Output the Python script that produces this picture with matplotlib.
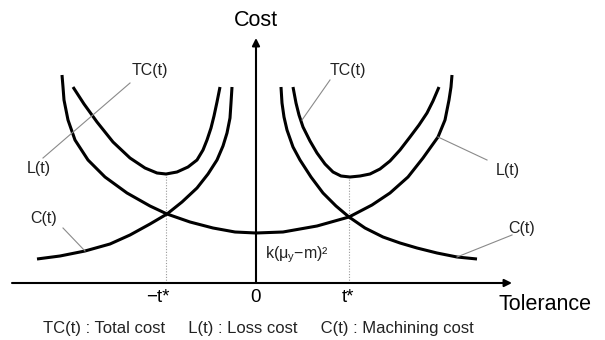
import matplotlib
matplotlib.use('Agg')
import matplotlib.pyplot as plt

plt.rcParams['font.family'] = ['Liberation Sans', 'DejaVu Sans']

# curves (x = tolerance, y = cost)
L_X = [-1.94, -1.93, -1.92, -1.88, -1.81, -1.68, -1.51, -1.29, -1.06, -0.89, -0.66, -0.43, -0.21, 0.0,
       0.27, 0.61, 0.93, 1.16, 1.34, 1.52, 1.67, 1.82, 1.89, 1.93, 1.95, 1.96]
L_Y = [2.08, 1.96, 1.83, 1.63, 1.43, 1.23, 1.06, 0.90, 0.77, 0.69, 0.61, 0.55, 0.51, 0.50,
       0.51, 0.57, 0.66, 0.78, 0.90, 1.06, 1.25, 1.46, 1.63, 1.83, 1.96, 2.08]

TC_LEFT_X = [-1.83, -1.72, -1.59, -1.43, -1.26, -1.11, -0.99, -0.90, -0.79, -0.68, -0.59, -0.53,
             -0.49, -0.45, -0.42, -0.39, -0.36]
TC_LEFT_Y = [1.96, 1.79, 1.61, 1.41, 1.25, 1.15, 1.10, 1.09, 1.11, 1.16, 1.23, 1.33,
             1.43, 1.55, 1.67, 1.81, 1.96]
TC_RIGHT_X = [0.37, 0.40, 0.43, 0.47, 0.54, 0.61, 0.69, 0.77, 0.85, 0.94, 1.04, 1.14, 1.24,
              1.34, 1.44, 1.54, 1.63, 1.71, 1.77, 1.83]
TC_RIGHT_Y = [1.96, 1.80, 1.68, 1.56, 1.42, 1.30, 1.19, 1.11, 1.07, 1.06, 1.07, 1.09, 1.14,
              1.22, 1.33, 1.46, 1.58, 1.70, 1.82, 1.96]

C_LEFT_X = [-2.19, -1.96, -1.71, -1.46, -1.26, -1.06, -0.89, -0.74, -0.59, -0.48, -0.39, -0.33,
            -0.29, -0.26, -0.25, -0.24]
C_LEFT_Y = [0.24, 0.27, 0.32, 0.39, 0.48, 0.59, 0.69, 0.81, 0.95, 1.09, 1.23, 1.37,
            1.50, 1.65, 1.80, 1.96]
C_RIGHT_X = [0.25, 0.26, 0.28, 0.31, 0.37, 0.44, 0.55, 0.67, 0.80, 0.93, 1.09, 1.27, 1.44,
             1.61, 1.81, 2.01, 2.21]
C_RIGHT_Y = [1.96, 1.80, 1.66, 1.53, 1.36, 1.23, 1.06, 0.90, 0.77, 0.66, 0.55, 0.46, 0.40,
             0.35, 0.30, 0.26, 0.24]

T_STAR = [-0.90, 0.93]
T_STAR_TOP = [1.09, 1.06]

LEGEND = 'TC(t) : Total cost     L(t) : Loss cost     C(t) : Machining cost'

fig = plt.figure(figsize=(6.05, 3.40), dpi=100)
ax = fig.add_axes([0, 0, 1, 1])
ax.set_xlim(-2.56, 3.49)
ax.set_ylim(-0.57, 2.83)
ax.axis('off')

# axes with arrows
ax.annotate('', xy=(2.56, 0), xytext=(-2.44, 0),
            arrowprops=dict(arrowstyle='-|>', lw=1.5, color='k', mutation_scale=11,
                            shrinkA=0, shrinkB=0))
ax.annotate('', xy=(0, 2.45), xytext=(0, 0),
            arrowprops=dict(arrowstyle='-|>', lw=1.5, color='k', mutation_scale=11,
                            shrinkA=0, shrinkB=0))

# dotted guides at optimum tolerance
for x, top in zip(T_STAR, T_STAR_TOP):
    ax.plot([x, x], [0, top], color='#999999', lw=0.8, ls=(0, (1, 1.5)))

lw = 2.2
ax.plot(L_X, L_Y, color='k', lw=lw, solid_capstyle='butt', solid_joinstyle='round')
ax.plot(TC_LEFT_X, TC_LEFT_Y, color='k', lw=lw, solid_capstyle='butt', solid_joinstyle='round')
ax.plot(TC_RIGHT_X, TC_RIGHT_Y, color='k', lw=lw, solid_capstyle='butt', solid_joinstyle='round')
ax.plot(C_LEFT_X, C_LEFT_Y, color='k', lw=lw, solid_capstyle='butt', solid_joinstyle='round')
ax.plot(C_RIGHT_X, C_RIGHT_Y, color='k', lw=lw, solid_capstyle='butt', solid_joinstyle='round')

# leader lines
gray = '#8a8a8a'
ax.plot([-1.26, -2.13], [2.00, 1.25], color=gray, lw=0.8)
ax.plot([-1.93, -1.71], [0.55, 0.32], color=gray, lw=0.8)
ax.plot([0.74, 0.46], [2.03, 1.63], color=gray, lw=0.8)
ax.plot([1.82, 2.31], [1.46, 1.23], color=gray, lw=0.8)
ax.plot([2.01, 2.56], [0.26, 0.48], color=gray, lw=0.8)

fs = 11.5
ax.text(-1.06, 2.12, 'TC(t)', fontsize=fs, ha='center', va='center', color='#222222')
ax.text(0.92, 2.12, 'TC(t)', fontsize=fs, ha='center', va='center', color='#222222')
ax.text(-2.17, 1.15, 'L(t)', fontsize=fs, ha='center', va='center', color='#222222')
ax.text(2.52, 1.13, 'L(t)', fontsize=fs, ha='center', va='center', color='#222222')
ax.text(-2.12, 0.65, 'C(t)', fontsize=fs, ha='center', va='center', color='#222222')
ax.text(2.66, 0.55, 'C(t)', fontsize=fs, ha='center', va='center', color='#222222')
ax.text(0.09, 0.28, 'k(μ$_\\mathregular{y}$−m)²', fontsize=fs, ha='left', va='center',
        color='#222222')

ax.text(0, 2.63, 'Cost', fontsize=15.5, ha='center', va='center')
ax.text(2.89, -0.22, 'Tolerance', fontsize=15.5, ha='center', va='center')
ax.text(-0.98, -0.15, '−t*', fontsize=13.5, ha='center', va='center')
ax.text(0, -0.15, '0', fontsize=13.5, ha='center', va='center')
ax.text(0.92, -0.15, 't*', fontsize=13.5, ha='center', va='center')
ax.text(0.02, -0.45, LEGEND, fontsize=12, ha='center', va='center', color='#222222')

fig.savefig('out.png', dpi=100)
